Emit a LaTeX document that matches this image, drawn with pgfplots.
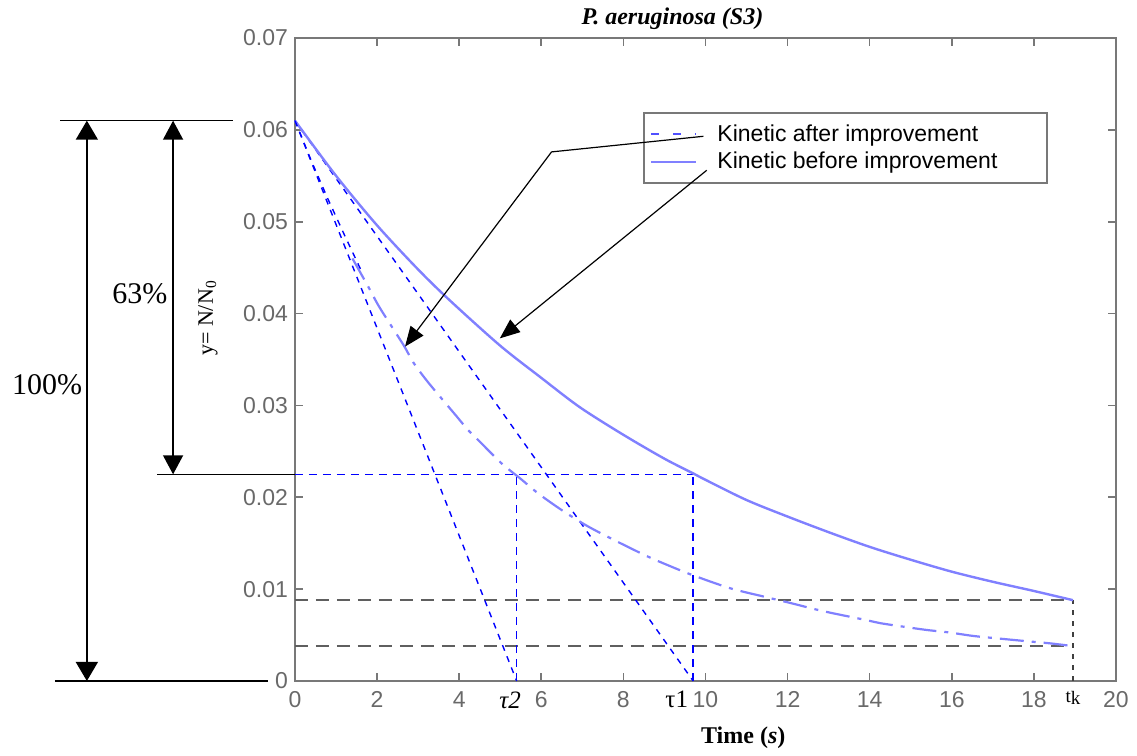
\documentclass[border=0pt]{standalone}
\usepackage{fontspec}
\setmainfont{Liberation Serif}
\newfontfamily\sansf{Liberation Sans}
\usepackage{pgfplots}
\pgfplotsset{compat=1.18}
\usetikzlibrary{arrows.meta}
\definecolor{lightblue}{RGB}{128,128,255}
\definecolor{legblue}{RGB}{80,80,255}
\definecolor{axgray}{RGB}{120,120,120}
\definecolor{tickgray}{RGB}{105,105,105}
\definecolor{dashgray}{RGB}{95,95,95}
\begin{document}
\begin{tikzpicture}
\begin{axis}[
  at={(0pt,0pt)}, anchor=south west,
  scale only axis, width=410.5pt, height=321.5pt,
  xmin=0, xmax=20, ymin=0, ymax=0.07,
  clip=false,
  scaled y ticks=false, scaled x ticks=false,
  axis line style={axgray, line width=1pt},
  tick align=inside,
  tick style={axgray, line width=0.8pt},
  major tick length=4pt,
  xtick={0,2,4,6,8,10,12,14,16,18,20},
  xticklabels={0,2,4,6,8,10,12,14,16,18,20},
  ytick={0,0.01,0.02,0.03,0.04,0.05,0.06,0.07},
  yticklabels={0,0.01,0.02,0.03,0.04,0.05,0.06,0.07},
  tick label style={font=\sansf\fontsize{11.5}{12}\selectfont, text=tickgray},
  xticklabel style={yshift=-1.7pt},
  extra x ticks={5.24,9.30,18.95},
  extra x tick labels={{\itshape τ2},τ1,{\fontsize{9.5}{10}\selectfont t\raisebox{-1pt}{k}}},
  extra x tick style={major tick length=0pt, tick label style={font=\rmfamily\fontsize{12.5}{13}\selectfont, text=black}},
  xlabel={\bfseries Time (\textit{s})},
  xlabel style={at={(rel axis cs:0.546,0)}, anchor=center, yshift=-28.5pt, font=\fontsize{12}{13}\selectfont},
  ylabel={y= N/N\textsubscript{0}},
  ylabel style={at={(rel axis cs:0,0.5645)}, yshift=43.5pt, anchor=center, font=\fontsize{11}{12}\selectfont},
  legend style={at={(axis cs:8.48,0.0619)}, anchor=north west, draw=axgray, line width=1pt, fill=white,
    font=\sansf\fontsize{11.5}{13}\selectfont, inner xsep=3pt, inner ysep=3.5pt,
    nodes={inner sep=2pt}, column sep=8pt, row sep=0pt, cells={anchor=west}},
  legend image code/.code={\draw[#1] (0pt,0pt) -- (22.5pt,0pt);},
]
\addlegendimage{legblue, line width=0.9pt, dash pattern=on 4pt off 7pt}
\addlegendentry{Kinetic after improvement}
\addlegendimage{lightblue, line width=1.2pt}
\addlegendentry{Kinetic before improvement\rule{20pt}{0pt}}

% gray horizontal dashed guides
\addplot[dashgray, line width=1.1pt, dash pattern=on 6.5pt off 4pt, forget plot] coordinates {(0,0.0088) (18.95,0.0088)};
\addplot[dashgray, line width=1.1pt, dash pattern=on 6.5pt off 4pt, forget plot] coordinates {(0,0.0038) (18.95,0.0038)};
\addplot[black!75, line width=0.7pt, dash pattern=on 2.5pt off 3pt, forget plot] coordinates {(18.95,0) (18.95,0.0088)};

% blue tangent lines and 63% guides
\addplot[blue, line width=0.7pt, dash pattern=on 3pt off 3pt, forget plot] coordinates {(0,0.061) (5.4,0)};
\addplot[blue, line width=0.7pt, dash pattern=on 3pt off 3pt, forget plot] coordinates {(0,0.061) (9.7,0)};
\addplot[blue, line width=0.7pt, dash pattern=on 4pt off 3pt, forget plot] coordinates {(0,0.0225) (9.7,0.0225)};
\addplot[blue, line width=0.7pt, dash pattern=on 4pt off 3pt, forget plot] coordinates {(5.4,0) (5.4,0.0225)};
\addplot[blue, line width=0.7pt, dash pattern=on 4pt off 3pt, forget plot] coordinates {(9.7,0) (9.7,0.0225)};

% kinetic before improvement
\addplot[lightblue, line width=1.2pt, smooth, forget plot] coordinates {
(0,0.0610) (1,0.0550) (2,0.0496) (3,0.0448) (3.78,0.0414) (5,0.0365) (6,0.0330)
(6.94,0.0298) (8,0.0268) (9,0.0242) (9.7,0.0226) (10,0.0219) (11,0.0197)
(12,0.0179) (13,0.0162) (14,0.0146) (15,0.0132) (16,0.0119) (17,0.0108)
(18,0.0098) (18.95,0.0088)};

% kinetic after improvement
\addplot[blue, line width=0.7pt, dash pattern=on 3pt off 3pt, forget plot] coordinates {
(0,0.061) (0.4,0.0566) (0.8,0.0525) (1.2,0.0486) (1.6,0.0448)};
\addplot[lightblue, line width=1.1pt, smooth, dash pattern=on 12pt off 4pt on 2pt off 4pt, forget plot] coordinates {
(1.4,0.0460) (1.8,0.0428) (2.07,0.0406) (2.64,0.0366) (2.88,0.0347) (3.21,0.0327)
(3.6,0.0306) (3.94,0.0288) (4.22,0.0273) (4.47,0.0262) (5.03,0.0237) (5.5,0.0220)
(5.93,0.0204) (6.5,0.0186) (7.11,0.0169) (7.75,0.0154) (8.57,0.0136) (9.14,0.0125)
(9.7,0.0115) (10.6,0.0101) (11.41,0.0092) (12.06,0.0085) (12.87,0.0076) (13.84,0.0067)
(14.25,0.0063) (15.31,0.0056) (15.91,0.0053) (16.53,0.0049) (17.2,0.0046) (17.9,0.0043)
(18.39,0.0041) (18.95,0.0038)};

% left annotations
\draw[black, line width=0.7pt] (axis cs:-5.72,0.061) -- (axis cs:-1.51,0.061);
\draw[black, line width=0.7pt] (axis cs:-5.85,0) -- (axis cs:-0.66,0);
\draw[black, line width=0.7pt] (axis cs:-3.36,0.0225) -- (axis cs:0,0.0225);
\draw[black, line width=0.7pt, {Triangle[length=9.5pt,width=11pt]}-{Triangle[length=9.5pt,width=11pt]}] (axis cs:-5.07,0.061) -- (axis cs:-5.07,0);
\draw[black, line width=0.7pt, {Triangle[length=9.5pt,width=10pt]}-{Triangle[length=9.5pt,width=10pt]}] (axis cs:-2.97,0.061) -- (axis cs:-2.97,0.0225);
\node[font=\fontsize{15}{15}\selectfont] at (axis cs:-6.04,0.0322) {100\%};
\node[font=\fontsize{15}{15}\selectfont] at (axis cs:-3.78,0.0422) {63\%};

\coordinate (LA0) at (axis cs:9.95,0.0593);
\coordinate (LA1) at (axis cs:6.25,0.0576);
\coordinate (LA2) at (axis cs:2.68,0.0364);
\coordinate (LB0) at (axis cs:10.03,0.0556);
\coordinate (LB1) at (axis cs:4.99,0.0373);
\end{axis}
\draw[black, line width=0.6pt, -{Triangle[length=10pt,width=8pt]}] (LA0) -- (LA1) -- (LA2);
\draw[black, line width=0.6pt, -{Triangle[length=10pt,width=8pt]}] (LB0) -- (LB1);
\node[font=\fontsize{12}{13}\selectfont\bfseries\itshape, inner sep=0pt] at (188.75pt,331pt) {P. aeruginosa (S3)};
\path (-147.5pt,-37pt) rectangle (421pt,340.5pt);
\end{tikzpicture}
\end{document}
